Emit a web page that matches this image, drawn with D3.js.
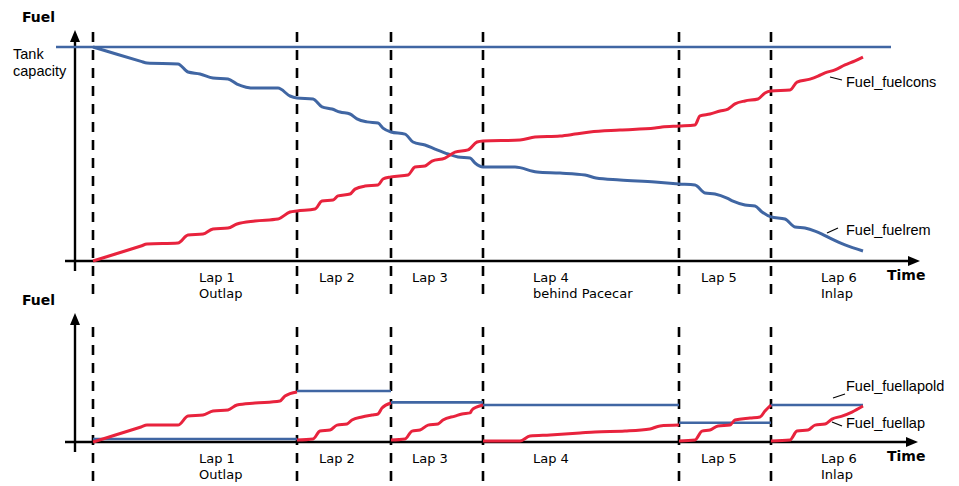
<!DOCTYPE html>
<html>
<head>
<meta charset="utf-8">
<script src="https://cdn.jsdelivr.net/npm/d3@7"></script>
<style>
  body { margin: 0; background: #fff; }
</style>
</head>
<body>
<div id="chart"></div>
<script>
// ---- data ----
const lapStarts = [0, 102, 149, 195, 293, 339];
const lapEnd = 385;
const lapLabelsTop = [["Lap 1", "Outlap"], ["Lap 2"], ["Lap 3"], ["Lap 4", "behind Pacecar"], ["Lap 5"], ["Lap 6", "Inlap"]];
const lapLabelsBottom = [["Lap 1", "Outlap"], ["Lap 2"], ["Lap 3"], ["Lap 4"], ["Lap 5"], ["Lap 6", "Inlap"]];
const tankCapacity = 100;

const fuelremTime = [0, 12, 24, 27, 42.5, 47.5, 53.5, 60, 67.5, 72, 81, 92.5, 98.5, 102, 110, 114.5, 119.5, 123.5, 128.5, 132, 137, 142.5,
  145, 149, 156, 160, 166, 171, 177.5, 182.5, 188.5, 191, 195, 211, 222, 233.5, 246, 251.5, 263.5, 281, 293, 301,
  306, 311, 317, 320, 326, 331, 334.5, 339, 346, 351, 356, 361, 364.5, 368.5, 376, 385];
const fuelremValue = [100, 96.6, 93.3, 92.5, 92.1, 88.3, 87.4, 85.5, 85.0, 82.7, 80.8, 80.8, 77.1, 76.2, 75.7, 72.0, 71.0, 69.6, 68.7, 66.4, 65.0, 64.5,
  62.1, 60.3, 59.3, 55.6, 54.2, 52.3, 50.0, 48.6, 48.1, 45.8, 43.9, 43.9, 41.6, 41.1, 40.2, 38.8, 37.9, 36.9, 36.0, 35.5,
  31.8, 31.3, 29.4, 28.0, 26.2, 25.7, 22.9, 20.6, 19.6, 15.9, 15.4, 14.0, 12.6, 10.7, 7.5, 4.7];

const fuelconsTime = [0, 12, 24, 27, 42.5, 47.5, 55, 60, 67.5, 72, 81, 92.5, 98.5, 102, 111, 114.5, 120, 122.5, 128.5, 131, 136, 142.5,
  145, 149, 157.5, 161, 166, 169.5, 176, 181, 187.5, 192, 195, 213.5, 221, 233.5, 241, 248.5, 263.5, 281, 284.5, 293,
  301, 303.5, 308.5, 313.5, 317.5, 321, 326, 332.5, 336, 339, 348.5, 352, 358.5, 362.5, 366, 371, 376, 381, 385];
const fuelconsValue = [0, 3.5, 7.0, 7.9, 8.4, 12.1, 12.6, 15.0, 15.4, 17.3, 18.7, 19.6, 22.9, 23.4, 24.3, 28.0, 28.5, 30.4, 31.3, 33.6, 35.0, 35.5,
  38.3, 39.3, 40.2, 43.9, 44.4, 46.7, 48.1, 50.9, 51.9, 55.6, 56.1, 56.5, 57.9, 58.4, 59.3, 60.3, 61.2, 62.1, 62.6, 63.1,
  63.6, 67.8, 68.7, 70.1, 71.0, 73.4, 74.8, 75.7, 78.5, 79.4, 79.9, 83.6, 85.0, 86.4, 87.9, 89.3, 91.6, 93.5, 95.3];

// fuel used in the current lap, one list per lap
const fuellapTime = [
  [0, 12, 24, 27, 42.5, 47.5, 55, 60, 67.5, 72, 81, 93.5, 96, 102],
  [102, 110, 113.5, 118.5, 122, 127, 129.5, 134.5, 139.5, 142.5, 144.5, 149],
  [149, 156, 159.5, 163.5, 167.5, 172.5, 175, 181, 184.5, 188.5, 189.5, 192, 195],
  [195, 213.5, 218.5, 228.5, 243.5, 251, 266, 278.5, 283.5, 293],
  [293, 301, 304.5, 308.5, 312.5, 318.5, 321, 328.5, 333.5, 336, 339],
  [339, 348.5, 352, 357.5, 361, 366, 369.5, 374.5, 379.5, 385]
];
const fuellapValue = [
  [0, 3.5, 7.0, 7.9, 7.9, 12.1, 12.6, 14.5, 15.0, 17.3, 18.2, 19.2, 21.5, 23.4],
  [0.9, 1.4, 5.1, 5.6, 7.9, 8.4, 10.3, 11.7, 12.6, 13.1, 15.9, 18.2],
  [0.9, 1.4, 5.1, 5.6, 7.9, 8.4, 10.3, 12.1, 13.1, 13.6, 15.0, 16.4, 17.3],
  [0.5, 0.5, 2.8, 3.3, 4.2, 4.7, 5.1, 6.1, 7.5, 7.9],
  [0.5, 0.9, 5.1, 5.6, 7.5, 7.9, 10.3, 11.2, 11.7, 14.5, 17.3],
  [0.5, 0.9, 5.1, 5.6, 7.9, 8.4, 10.7, 12.1, 14.0, 16.8]
];
// fuel used in the previous lap, held over each lap
const fuellapoldValue = [1.4, 23.8, 18.5, 17.3, 9.0, 17.3];

// ---- layout ----
const width = 959, height = 486;
const blue = "#4066a3", red = "#e8233d";
const labelDx = [106, 22, 21, 50, 22, 50];

const x = d3.scaleLinear().domain([0, lapEnd]).range([93, 863]);
const yTop = d3.scaleLinear().domain([0, tankCapacity]).range([261, 47]);
const yBot = d3.scaleLinear().domain([0, 50]).range([442, 335]);

const svg = d3.select("#chart").append("svg")
  .attr("width", width)
  .attr("height", height)
  .style("font-family", "'DejaVu Sans', sans-serif");

const lapBounds = lapStarts.concat([lapEnd]);

function drawPanel(cfg) {
  let g = svg.append("g");

  // dashed lap separators
  g.selectAll(".sep").data(lapStarts).join("line")
    .attr("x1", d => x(d)).attr("x2", d => x(d))
    .attr("y1", cfg.sepTop).attr("y2", cfg.sepBottom)
    .attr("stroke", "#000")
    .attr("stroke-width", 2.6)
    .attr("stroke-dasharray", "10,8")
    .attr("stroke-dashoffset", 14);

  // axes
  g.append("line")
    .attr("x1", 65).attr("x2", cfg.xTip - 10)
    .attr("y1", cfg.y0).attr("y2", cfg.y0)
    .attr("stroke", "#000").attr("stroke-width", 2.4);
  g.append("path")
    .attr("d", `M${cfg.xTip},${cfg.y0} L${cfg.xTip - 12},${cfg.y0 - 5} L${cfg.xTip - 12},${cfg.y0 + 5} Z`)
    .attr("fill", "#000");
  g.append("line")
    .attr("x1", 75).attr("x2", 75)
    .attr("y1", cfg.y0 + 10).attr("y2", cfg.yTip + 10)
    .attr("stroke", "#000").attr("stroke-width", 2.4);
  g.append("path")
    .attr("d", `M75,${cfg.yTip} L70,${cfg.yTip + 12} L80,${cfg.yTip + 12} Z`)
    .attr("fill", "#000");

  g.append("text")
    .attr("x", 22).attr("y", cfg.yTip - 8)
    .style("font-weight", "bold").style("font-size", "14px")
    .text("Fuel");
  g.append("text")
    .attr("x", 887).attr("y", cfg.y0 + 19)
    .style("font-weight", "bold").style("font-size", "14px")
    .text("Time");

  // lap labels
  let labels = g.selectAll(".lap").data(cfg.labels).join("text")
    .attr("x", (d, i) => x(lapStarts[i]) + labelDx[i])
    .attr("y", cfg.y0 + 20.5)
    .style("font-size", "13px");
  labels.selectAll("tspan").data(d => d).join("tspan")
    .attr("x", function () { return this.parentNode.getAttribute("x"); })
    .attr("dy", (d, i) => i === 0 ? 0 : 16)
    .text(d => d);

  return g;
}

function seriesLabel(g, text, tx, ty, lx1, ly1, lx2, ly2) {
  g.append("line")
    .attr("x1", lx1).attr("y1", ly1).attr("x2", lx2).attr("y2", ly2)
    .attr("stroke", "#000").attr("stroke-width", 1.2);
  g.append("text")
    .attr("x", tx).attr("y", ty)
    .style("font-family", "'Liberation Sans', Arial, sans-serif")
    .style("font-size", "14.5px")
    .text(text);
}

// ---- top panel: fuel consumed / fuel remaining ----
let topPanel = drawPanel({ y0: 261, xTip: 920, yTip: 30, sepTop: 28, sepBottom: 301, labels: lapLabelsTop });

let lineTop = d3.line()
  .x(d => x(d[0]))
  .y(d => yTop(d[1]))
  .curve(d3.curveMonotoneX);

topPanel.append("line")
  .attr("x1", 56).attr("x2", 891)
  .attr("y1", yTop(tankCapacity)).attr("y2", yTop(tankCapacity))
  .attr("stroke", blue).attr("stroke-width", 2.6);

topPanel.append("path")
  .datum(d3.zip(fuelremTime, fuelremValue))
  .attr("d", lineTop)
  .attr("fill", "none").attr("stroke", blue).attr("stroke-width", 3);

topPanel.append("path")
  .datum(d3.zip(fuelconsTime, fuelconsValue))
  .attr("d", lineTop)
  .attr("fill", "none").attr("stroke", red).attr("stroke-width", 3);

topPanel.append("text").attr("x", 13).attr("y", 59)
  .style("font-family", "'Liberation Sans', Arial, sans-serif").style("font-size", "14.5px")
  .text("Tank");
topPanel.append("text").attr("x", 13).attr("y", 76)
  .style("font-family", "'Liberation Sans', Arial, sans-serif").style("font-size", "14.5px")
  .text("capacity");

seriesLabel(topPanel, "Fuel_fuelcons", 846, 87, 830, 77, 842, 80);
seriesLabel(topPanel, "Fuel_fuelrem", 846, 235, 827, 233, 838, 228);

// ---- bottom panel: fuel per lap ----
let botPanel = drawPanel({ y0: 442, xTip: 918, yTip: 313, sepTop: 323, sepBottom: 482, labels: lapLabelsBottom });

let lineBot = d3.line()
  .x(d => x(d[0]))
  .y(d => yBot(d[1]))
  .curve(d3.curveMonotoneX);

botPanel.selectAll(".old").data(fuellapoldValue).join("line")
  .attr("x1", (d, i) => x(lapBounds[i])).attr("x2", (d, i) => x(lapBounds[i + 1]))
  .attr("y1", d => yBot(d)).attr("y2", d => yBot(d))
  .attr("stroke", blue).attr("stroke-width", 2.6);

botPanel.selectAll(".lapfuel").data(d3.range(fuellapTime.length)).join("path")
  .attr("d", i => lineBot(d3.zip(fuellapTime[i], fuellapValue[i])))
  .attr("fill", "none").attr("stroke", red).attr("stroke-width", 3);

seriesLabel(botPanel, "Fuel_fuellapold", 846, 391, 833, 398, 845, 394);
seriesLabel(botPanel, "Fuel_fuellap", 846, 428, 832, 422, 842, 426);
</script>
</body>
</html>
